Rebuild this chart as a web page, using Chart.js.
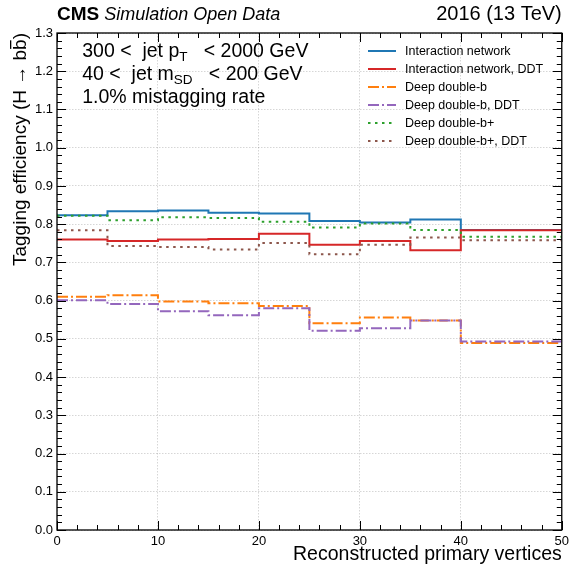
<!DOCTYPE html>
<html>
<head>
<meta charset="utf-8">
<script src="https://cdn.jsdelivr.net/npm/chart.js@4"></script>
<style>
  html, body { margin: 0; padding: 0; background: #fff; }
</style>
</head>
<body>
<canvas id="chart" width="573" height="566"></canvas>
<script>
// bin edges (last bin is 40-50)
const binEdges = [0, 5, 10, 15, 20, 25, 30, 35, 40, 50];

const interactionNet     = [0.823, 0.834, 0.836, 0.830, 0.828, 0.808, 0.804, 0.812, 0.785];
const interactionNetDDT  = [0.760, 0.756, 0.760, 0.761, 0.775, 0.746, 0.756, 0.732, 0.784];
const deepDoubleB        = [0.610, 0.614, 0.598, 0.593, 0.586, 0.541, 0.556, 0.548, 0.489];
const deepDoubleBDDT     = [0.601, 0.591, 0.572, 0.562, 0.580, 0.521, 0.528, 0.548, 0.493];
const deepDoubleBPlus    = [0.822, 0.810, 0.818, 0.816, 0.806, 0.791, 0.802, 0.785, 0.767];
const deepDoubleBPlusDDT = [0.784, 0.743, 0.740, 0.734, 0.751, 0.721, 0.746, 0.765, 0.758];

const seriesNames = [
  "Interaction network",
  "Interaction network, DDT",
  "Deep double-b",
  "Deep double-b, DDT",
  "Deep double-b+",
  "Deep double-b+, DDT",
];
const cuts = ["300 <  jet p", "T", "   < 2000 GeV", "40 <  jet m", "SD", "   < 200 GeV"];
const wpText = "1.0% mistagging rate";

const FONT = "'Liberation Sans', Arial, Helvetica, sans-serif";

const styles = [
  { color: "#1f77b4", dash: [] },
  { color: "#d62728", dash: [] },
  { color: "#ff7f0e", dash: [11, 3, 2, 3] },
  { color: "#9467bd", dash: [11, 3, 2, 3] },
  { color: "#2ca02c", dash: [2.5, 4.5] },
  { color: "#8c564b", dash: [2.5, 4.5] },
];

// one point per left edge, plus the closing right edge
const toSteps = (vals) => {
  const pts = vals.map((v, i) => ({ x: binEdges[i], y: v }));
  pts.push({ x: binEdges[binEdges.length - 1], y: vals[vals.length - 1] });
  return pts;
};

const allSeries = [interactionNet, interactionNetDDT, deepDoubleB, deepDoubleBDDT, deepDoubleBPlus, deepDoubleBPlusDDT];

const datasets = allSeries.map((vals, i) => ({
  label: seriesNames[i],
  data: toSteps(vals),
  borderColor: styles[i].color,
  borderDash: styles[i].dash,
  borderWidth: 2,
  stepped: "before",
  pointRadius: 0,
  fill: false,
  order: allSeries.length - i, // later series on top, like matplotlib
}));

const decorations = {
  id: "decorations",
  afterDraw(chart) {
    const { ctx, chartArea: a, scales: { x, y } } = chart;
    ctx.save();

    // inner ticks on all four sides
    ctx.strokeStyle = "#000";
    ctx.lineWidth = 1;
    ctx.beginPath();
    for (let v = 0; v <= 50; v += 2) {
      const px = Math.round(x.getPixelForValue(v)) + 0.5;
      const len = v % 10 === 0 ? 9 : 5;
      ctx.moveTo(px, a.bottom); ctx.lineTo(px, a.bottom - len);
      ctx.moveTo(px, a.top); ctx.lineTo(px, a.top + len);
    }
    for (let i = 0; i <= 65; i++) {
      const py = Math.round(y.getPixelForValue(i * 0.02)) + 0.5;
      const len = i % 5 === 0 ? 9 : 5;
      ctx.moveTo(a.left, py); ctx.lineTo(a.left + len, py);
      ctx.moveTo(a.right, py); ctx.lineTo(a.right - len, py);
    }
    ctx.stroke();

    ctx.lineWidth = 1.3;
    ctx.strokeRect(a.left, a.top, a.right - a.left, a.bottom - a.top);

    // header
    ctx.fillStyle = "#000";
    ctx.textBaseline = "alphabetic";
    ctx.textAlign = "left";
    ctx.font = "bold 19px " + FONT;
    ctx.fillText("CMS", a.left, 20);
    const cmsW = ctx.measureText("CMS").width;
    ctx.font = "italic 18px " + FONT;
    ctx.fillText("Simulation Open Data", a.left + cmsW + 5, 20);
    ctx.textAlign = "right";
    ctx.font = "20px " + FONT;
    ctx.fillText("2016 (13 TeV)", a.right, 20);

    // x title
    ctx.font = "19.5px " + FONT;
    ctx.fillText("Reconstructed primary vertices", a.right, 560);

    // y title (rotated), with a bar over the second b
    ctx.save();
    ctx.translate(26, a.top);
    ctx.rotate(-Math.PI / 2);
    ctx.textAlign = "left";
    ctx.font = "19px " + FONT;
    const part1 = "Tagging efficiency (H \u2192 b";
    const full = part1 + "b)";
    const fullW = ctx.measureText(full).width;
    const x0 = -fullW;
    ctx.fillText(full, x0, 0);
    const bx = x0 + ctx.measureText(part1).width;
    const bw = ctx.measureText("b").width;
    ctx.fillRect(bx + 1, -16, bw - 2, 1.3);
    ctx.restore();

    // selection text
    ctx.textAlign = "left";
    const drawSub = (parts, x0, yb) => {
      ctx.font = "19.5px " + FONT;
      ctx.fillText(parts[0], x0, yb);
      let cx = x0 + ctx.measureText(parts[0]).width;
      ctx.font = "13.5px " + FONT;
      ctx.fillText(parts[1], cx, yb + 4);
      cx += ctx.measureText(parts[1]).width;
      ctx.font = "19.5px " + FONT;
      ctx.fillText(parts[2], cx, yb);
    };
    const tx = a.left + 0.05 * (a.right - a.left);
    drawSub(cuts.slice(0, 3), tx, 57);
    drawSub(cuts.slice(3, 6), tx, 80);
    ctx.font = "19.5px " + FONT;
    ctx.fillText(wpText, tx, 103);

    // legend
    ctx.font = "12.5px " + FONT;
    ctx.textBaseline = "middle";
    seriesNames.forEach((name, i) => {
      const ly = 51 + i * 18;
      ctx.strokeStyle = styles[i].color;
      ctx.lineWidth = 2;
      ctx.setLineDash(styles[i].dash);
      ctx.beginPath();
      ctx.moveTo(368, ly);
      ctx.lineTo(396, ly);
      ctx.stroke();
      ctx.setLineDash([]);
      ctx.fillText(name, 405, ly + 1);
    });

    ctx.restore();
  },
};

new Chart(document.getElementById("chart"), {
  type: "line",
  data: { datasets },
  options: {
    responsive: false,
    devicePixelRatio: 1,
    animation: false,
    layout: { padding: { top: 33, right: 8, bottom: 0, left: 0 } },
    plugins: { legend: { display: false }, tooltip: { enabled: false } },
    scales: {
      x: {
        type: "linear",
        min: 0,
        max: 50,
        afterFit: (s) => { s.height = 36; },
        grid: { color: "rgba(0,0,0,0.16)", drawTicks: false },
        border: { display: false, dash: [1.5, 1.5] },
        ticks: { stepSize: 10, padding: 4, color: "#000", font: { family: FONT, size: 13 } },
      },
      y: {
        type: "linear",
        min: 0,
        max: 1.3,
        afterFit: (s) => { s.width = 57; },
        grid: { color: "rgba(0,0,0,0.16)", drawTicks: false },
        border: { display: false, dash: [1.5, 1.5] },
        ticks: {
          stepSize: 0.1,
          padding: 4,
          color: "#000",
          font: { family: FONT, size: 13 },
          callback: (v) => v.toFixed(1),
        },
      },
    },
  },
  plugins: [decorations],
});
</script>
</body>
</html>
